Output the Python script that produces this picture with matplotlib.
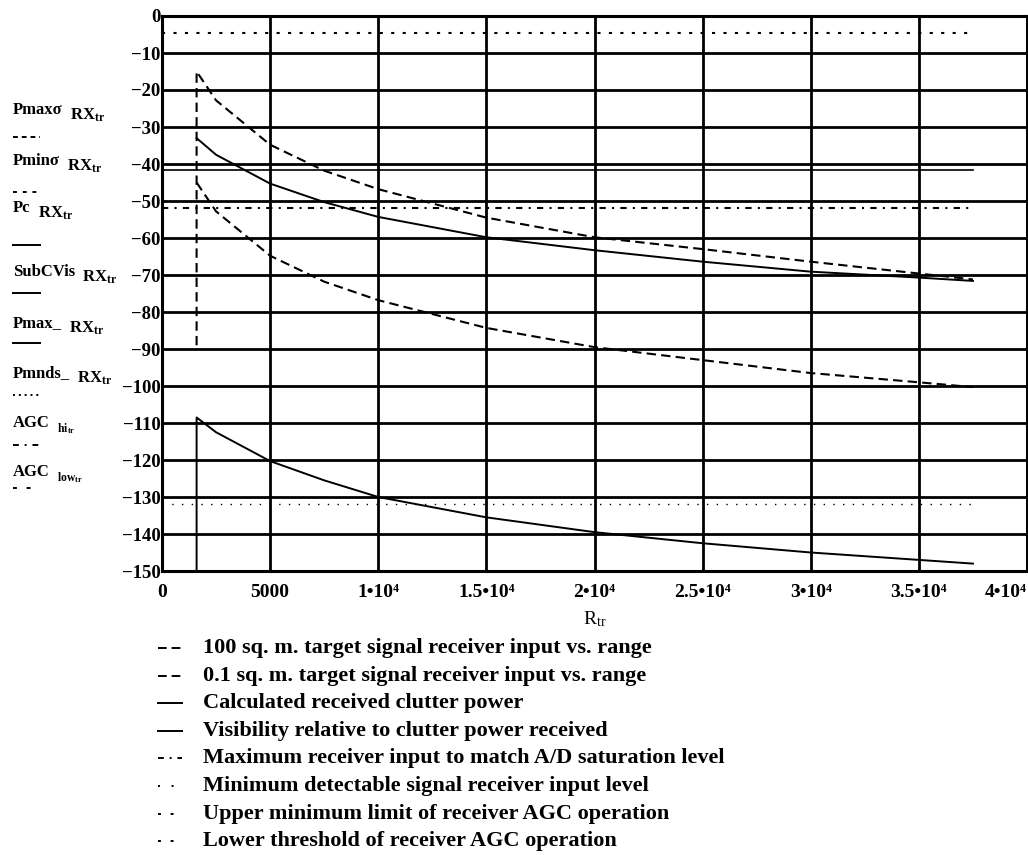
"""
Received power levels vs range, Mathcad-style plot redrawn with matplotlib.
"""

from matplotlib import pyplot as plt
from matplotlib.lines import Line2D

r_tr = [1600, 2500, 5000, 7500, 10000, 15000, 20000, 25000, 30000, 35000, 37500]

# target signal at receiver input (dBm)
pmax_sigma = [-15, -22.8, -34.8, -41.8, -46.8, -54.5, -59.8, -63.0, -66.4, -69.6, -71.2]
pmin_sigma = [-45, -52.8, -64.8, -71.8, -76.8, -84.3, -89.5, -93.0, -96.5, -99.0, -100.3]
# clutter power and sub-clutter visibility (dBm)
pc = [-33, -37.5, -45.3, -50.3, -54.3, -59.8, -63.3, -66.4, -69.1, -70.7, -71.6]
sub_c_vis = [-108.5, -112.5, -120.3, -125.5, -130, -135.5, -139.5, -142.5, -145, -147, -148]

# level the traces drop to at the first range point
pmax_sigma_drop = -89
sub_c_vis_drop = -150

# constant levels (dBm)
pmax_level = -41.5
pmds_level = -132
agc_hi = -4.5
agc_low = -51.8

x_ticks = [0, 5000, 10000, 15000, 20000, 25000, 30000, 35000, 40000]
x_tick_labels = ["0", "5000", "1•10⁴", "1.5•10⁴", "2•10⁴", "2.5•10⁴",
                 "3•10⁴", "3.5•10⁴", "4•10⁴"]
y_ticks = list(range(-150, 1, 10))

# y-axis expressions as Mathcad shows them: name, then argument
y_names = ["Pmaxσ", "Pminσ", "Pc", "SubCVis", "Pmax_", "Pmnds_", "AGC", "AGC"]
y_args = [r"RX$_{\mathregular{tr}}$"] * 6 + [r"$_{\mathregular{hi}_{\mathregular{tr}}}$",
                                           r"$_{\mathregular{low}_{\mathregular{tr}}}$"]

descriptions = [
    "100 sq. m. target signal receiver input vs. range",
    "0.1 sq. m. target signal receiver input vs. range",
    "Calculated received clutter power",
    "Visibility relative to clutter power received",
    "Maximum receiver input to match A/D saturation level",
    "Minimum detectable signal receiver input level",
    "Upper minimum limit of receiver AGC operation",
    "Lower threshold of receiver AGC operation",
]

DASH = (0, (4.5, 2.5))
DOTS = (0, (1.5, 4))
SPARSE = (0, (1, 6))
DASHDOT = (0, (3, 3, 1, 3))

plt.rcParams["font.family"] = ["Liberation Serif", "DejaVu Serif"]
plt.rcParams["font.weight"] = "bold"
plt.rcParams["mathtext.fontset"] = "stix"

W, H = 1028, 855
fig = plt.figure(figsize=(W / 100, H / 100), dpi=100)
ax = fig.add_axes([162 / W, 1 - 571 / H, (1027 - 162) / W, (571 - 16) / H])

# traces
ax.plot([r_tr[0]] + r_tr, [pmax_sigma_drop] + pmax_sigma, color="black", lw=1.5, ls=DASH)
ax.plot(r_tr, pmin_sigma, color="black", lw=1.5, ls=DASH)
ax.plot(r_tr, pc, color="black", lw=1.4)
ax.plot([r_tr[0]] + r_tr, [sub_c_vis_drop] + sub_c_vis, color="black", lw=1.4)

# constant levels, drawn over the same range span
span = [0, r_tr[-1]]
ax.plot(span, [pmax_level] * 2, color="black", lw=1.2)
ax.plot(span, [pmds_level] * 2, color="black", lw=1.0, ls=SPARSE)
ax.plot(span, [agc_hi] * 2, color="black", lw=1.5, ls=DOTS)
ax.plot(span, [agc_low] * 2, color="black", lw=1.5, ls=DASHDOT)

ax.set_xlim(0, 40000)
ax.set_ylim(-150, 0)
ax.set_xticks(x_ticks)
ax.set_xticklabels(x_tick_labels)
ax.get_xticklabels()[-1].set_ha("right")
ax.set_yticks(y_ticks)
ax.set_yticklabels([str(v).replace("-", "−") for v in y_ticks])
ax.tick_params(length=0, colors="black")
ax.tick_params(axis="x", pad=9, labelsize=14)
ax.tick_params(axis="y", pad=1, labelsize=13.5)
ax.grid(True, color="black", lw=2.0)
for sp in ax.spines.values():
    sp.set_linewidth(2.2)
ax.set_xlabel(r"R$_{\mathregular{tr}}$", fontsize=14, labelpad=6)

# Mathcad-style y-axis expressions with line samples
name_y = [110, 161, 208, 272, 323, 373, 423, 472]
sample_y = [137, 192, 245, 293, 343, 395, 445, 488]
name_styles = [(0, (2.5, 2)), (0, (2, 3)), "-", "-", "-", (0, (1, 2)), DASHDOT, (0, (2, 5))]
for name, arg, ny, sy, st in zip(y_names, y_args, name_y, sample_y, name_styles):
    t = fig.text(13 / W, 1 - ny / H, name, fontsize=12, ha="left", va="center")
    ax.annotate(arg, xy=(1, 0.5), xycoords=t, xytext=(5, -4), textcoords="offset points",
                fontsize=12, ha="left", va="center", annotation_clip=False)
    fig.add_artist(Line2D([13 / W, 40 / W], [1 - sy / H] * 2, color="black",
                          lw=1.4, ls=st, transform=fig.transFigure))

# description list under the plot
desc_styles = [DASH, DASH, "-", "-", DASHDOT, SPARSE, (0, (1.5, 5)), (0, (1.5, 5))]
for i, (text, st) in enumerate(zip(descriptions, desc_styles)):
    y = 1 - (648 + 27.6 * i) / H
    fig.add_artist(Line2D([158 / W, 182 / W], [y, y], color="black", lw=1.4,
                          ls=st, transform=fig.transFigure))
    fig.text(203 / W, y, text, fontsize=16, ha="left", va="center")

fig.savefig("out.png", dpi=100)
